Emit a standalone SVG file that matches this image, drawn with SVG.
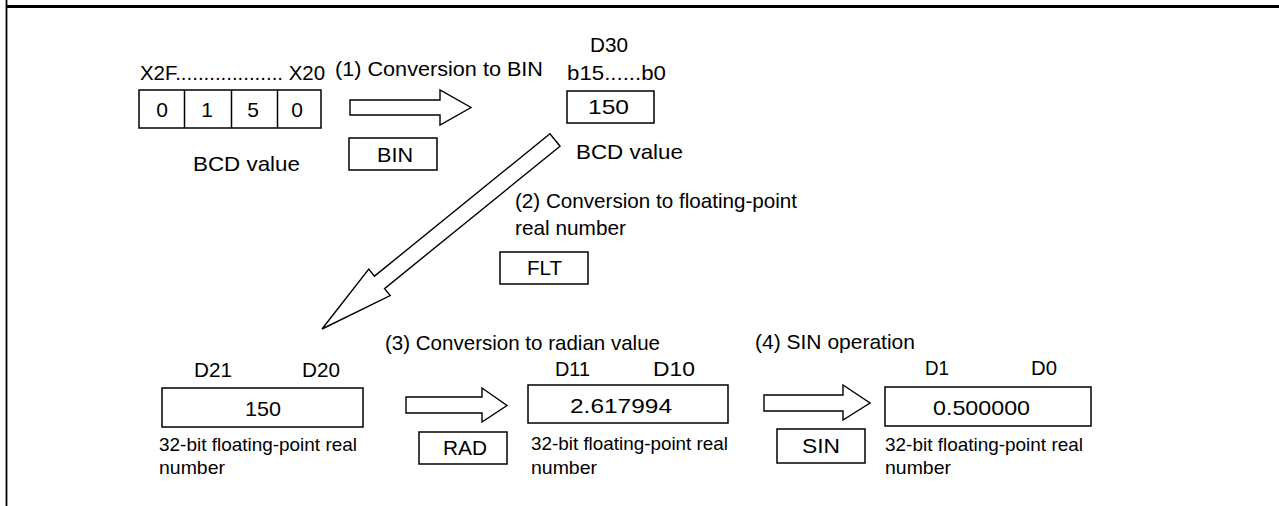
<svg xmlns="http://www.w3.org/2000/svg" width="1279" height="506" viewBox="0 0 1279 506">
<style>
  text { font-family: "Liberation Sans", Arial, sans-serif; font-size: 21px; fill: #000; }
  .sm { font-size: 19px; }
  .box { fill: #fff; stroke: #000; stroke-width: 1.5; }
  .arr { fill: #fff; stroke: #000; stroke-width: 1.4; stroke-linejoin: miter; }
  .frame { stroke: #000; fill: none; }
  .mid { text-anchor: middle; }
</style>
<rect x="0" y="0" width="1279" height="506" fill="#fff"/>
<g id="frame">
  <line class="frame" x1="6" y1="6.5" x2="1279" y2="6.5" stroke-width="3"/>
  <line class="frame" x1="6.5" y1="0" x2="6.5" y2="506" stroke-width="1.8"/>
</g>

<g id="connectors">
  <polygon class="arr" points="350,100 440,100 440,90 471,107.5 440,125 440,115 350,115"/>
  <polygon class="arr" transform="translate(555,140) rotate(140.95)" points="0,-8 226,-8 226,-17 300,0 226,17 226,8 0,8"/>
  <polygon class="arr" points="406,397 482,397 482,388 507,405.5 482,422 482,413 406,413"/>
  <polygon class="arr" points="764,395 843,395 843,385 870,403 843,420 843,411 764,411"/>
</g>

<g id="bcd-input">
  <text x="140" y="80" textLength="185" lengthAdjust="spacingAndGlyphs">X2F................... X20</text>
  <rect class="box" x="139" y="90" width="182" height="38"/>
  <line stroke="#000" stroke-width="1.5" x1="184.5" y1="90" x2="184.5" y2="128"/>
  <line stroke="#000" stroke-width="1.5" x1="231.5" y1="90" x2="231.5" y2="128"/>
  <line stroke="#000" stroke-width="1.5" x1="277.5" y1="90" x2="277.5" y2="128"/>
  <text class="mid" x="162" y="117">0</text>
  <text class="mid" x="207" y="117">1</text>
  <text class="mid" x="253" y="117">5</text>
  <text class="mid" x="297" y="117">0</text>
  <text x="193" y="171" textLength="107" lengthAdjust="spacingAndGlyphs">BCD value</text>
</g>

<g id="step1">
  <text x="335" y="76" textLength="208" lengthAdjust="spacingAndGlyphs">(1) Conversion to BIN</text>
  <rect class="box" x="349" y="138" width="88" height="32"/>
  <text x="377" y="162" textLength="36" lengthAdjust="spacingAndGlyphs">BIN</text>
</g>

<g id="d30">
  <text x="590" y="52" textLength="38" lengthAdjust="spacingAndGlyphs">D30</text>
  <text x="567" y="80" textLength="99" lengthAdjust="spacingAndGlyphs">b15......b0</text>
  <rect class="box" x="567" y="91" width="87" height="32"/>
  <text x="588" y="114" textLength="41" lengthAdjust="spacingAndGlyphs">150</text>
  <text x="576" y="159" textLength="107" lengthAdjust="spacingAndGlyphs">BCD value</text>
</g>

<g id="step2">
  <text x="515" y="208" textLength="282" lengthAdjust="spacingAndGlyphs">(2) Conversion to floating-point</text>
  <text x="515" y="235" textLength="111" lengthAdjust="spacingAndGlyphs">real number</text>
  <rect class="box" x="500" y="252" width="88" height="32"/>
  <text x="527" y="275" textLength="35" lengthAdjust="spacingAndGlyphs">FLT</text>
</g>

<g id="d20">
  <text x="194" y="377" textLength="38" lengthAdjust="spacingAndGlyphs">D21</text>
  <text x="302" y="377" textLength="38" lengthAdjust="spacingAndGlyphs">D20</text>
  <rect class="box" x="162" y="388" width="201" height="39"/>
  <text x="245" y="416" textLength="36" lengthAdjust="spacingAndGlyphs">150</text>
  <text class="sm" x="159" y="451" textLength="198" lengthAdjust="spacingAndGlyphs">32-bit floating-point real</text>
  <text class="sm" x="159" y="474" textLength="66" lengthAdjust="spacingAndGlyphs">number</text>
</g>

<g id="step3">
  <text x="385" y="350" textLength="275" lengthAdjust="spacingAndGlyphs">(3) Conversion to radian value</text>
  <rect class="box" x="419" y="432" width="88" height="32"/>
  <text x="443" y="455" textLength="44" lengthAdjust="spacingAndGlyphs">RAD</text>
</g>

<g id="d10">
  <text x="555" y="376" textLength="35" lengthAdjust="spacingAndGlyphs">D11</text>
  <text x="653" y="376" textLength="42" lengthAdjust="spacingAndGlyphs">D10</text>
  <rect class="box" x="528" y="385" width="200" height="38"/>
  <text x="570" y="413" textLength="102" lengthAdjust="spacingAndGlyphs">2.617994</text>
  <text class="sm" x="531" y="450" textLength="197" lengthAdjust="spacingAndGlyphs">32-bit floating-point real</text>
  <text class="sm" x="531" y="474" textLength="66" lengthAdjust="spacingAndGlyphs">number</text>
</g>

<g id="step4">
  <text x="755" y="349" textLength="160" lengthAdjust="spacingAndGlyphs">(4) SIN operation</text>
  <rect class="box" x="777" y="429" width="88" height="34"/>
  <text x="802" y="453" textLength="38" lengthAdjust="spacingAndGlyphs">SIN</text>
</g>

<g id="d0">
  <text x="925" y="375" textLength="24" lengthAdjust="spacingAndGlyphs">D1</text>
  <text x="1031" y="375" textLength="26" lengthAdjust="spacingAndGlyphs">D0</text>
  <rect class="box" x="885" y="387" width="206" height="39"/>
  <text x="933" y="415" textLength="97" lengthAdjust="spacingAndGlyphs">0.500000</text>
  <text class="sm" x="885" y="451" textLength="198" lengthAdjust="spacingAndGlyphs">32-bit floating-point real</text>
  <text class="sm" x="885" y="474" textLength="66" lengthAdjust="spacingAndGlyphs">number</text>
</g>
</svg>
